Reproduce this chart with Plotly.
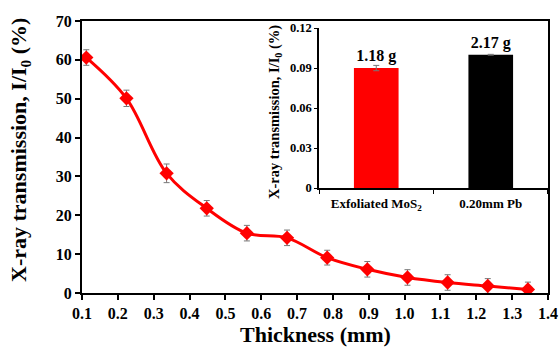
import plotly.graph_objects as go

# Transmission vs. sheet thickness
thickness_mm = [0.112, 0.224, 0.336, 0.448, 0.560, 0.672, 0.784, 0.896, 1.008, 1.120, 1.232, 1.344]
transmission = [60.6, 50.1, 30.8, 21.8, 15.4, 14.2, 9.1, 6.1, 4.0, 2.7, 1.8, 0.9]
transmission_err = [2.0, 2.1, 2.4, 2.0, 2.0, 2.0, 1.9, 2.0, 2.0, 2.0, 1.9, 1.9]

# Inset: comparison with lead
inset_labels = ["Exfoliated MoS<sub>2</sub>", "0.20mm Pb"]
inset_values = [0.090, 0.100]
inset_err = [0.002, 0.0003]
inset_colors = ["#ff0000", "#000000"]
inset_mass = ["1.18 g", "2.17 g"]

FONT = "Liberation Serif"

fig = go.Figure()

fig.add_trace(go.Scatter(
    x=thickness_mm, y=transmission,
    mode="lines+markers",
    line=dict(color="#ff0000", width=3, shape="spline", smoothing=1.0),
    marker=dict(symbol="diamond", size=11, color="#ff0000"),
    error_y=dict(type="data", array=transmission_err, color="#777777", thickness=1, width=3),
    showlegend=False,
))

fig.add_trace(go.Bar(
    x=inset_labels, y=inset_values,
    marker=dict(color=inset_colors, line=dict(width=0)),
    width=0.39,
    error_y=dict(type="data", array=inset_err, color="#777777", thickness=1, width=3),
    text=["<b>%s</b>" % m for m in inset_mass],
    textposition="outside",
    textfont=dict(family=FONT, size=16, color="black"),
    cliponaxis=False,
    xaxis="x2", yaxis="y2",
    showlegend=False,
))

fig.update_layout(
    width=560, height=347,
    margin=dict(l=82, r=12, t=21, b=54),
    paper_bgcolor="white", plot_bgcolor="white",
    font=dict(family=FONT, color="black"),
    xaxis=dict(
        range=[0.1, 1.4], dtick=0.1, tick0=0.1, tickformat=".1f",
        showline=True, linecolor="black", linewidth=2, mirror=True,
        ticks="outside", ticklen=5, tickwidth=1.5, tickcolor="black",
        automargin=False,
        showgrid=False, zeroline=False,
        tickfont=dict(family=FONT, size=16, weight="bold"),
    ),
    yaxis=dict(
        range=[0, 70], dtick=10,
        showline=True, linecolor="black", linewidth=2, mirror=True,
        ticks="outside", ticklen=5, tickwidth=1.5, tickcolor="black",
        automargin=False,
        showgrid=False, zeroline=False,
        tickfont=dict(family=FONT, size=16, weight="bold"),
    ),
    xaxis2=dict(
        domain=[0.5086, 1.0], anchor="y2",
        range=[-0.5, 1.5],
        showline=True, linecolor="black", linewidth=1.5,
        ticks="outside", tickson="boundaries", ticklen=4, tickcolor="black",
        ticklabelstandoff=3, automargin=False,
        showgrid=False, zeroline=False,
        tickfont=dict(family=FONT, size=13, weight="bold"),
    ),
    yaxis2=dict(
        domain=[0.386, 0.974], anchor="x2",
        range=[0, 0.12],
        tickvals=[0, 0.03, 0.06, 0.09, 0.12],
        ticktext=["0", "0.03", "0.06", "0.09", "0.12"],
        showline=True, linecolor="black", linewidth=1.5,
        ticks="outside", ticklen=3, tickcolor="black",
        automargin=False,
        showgrid=False, zeroline=False,
        tickfont=dict(family=FONT, size=12.5, weight="bold"),
    ),
    annotations=[
        # main axis titles
        dict(text="Thickness (mm)", xref="paper", yref="paper",
             x=0.5, y=-0.151, showarrow=False,
             xanchor="center", yanchor="middle",
             font=dict(family=FONT, size=22, weight="bold")),
        dict(text="X-ray transmission, I/I<sub>0</sub> (%)", xref="paper", yref="paper",
             x=-0.133, y=0.526, textangle=-90, showarrow=False,
             xanchor="center", yanchor="middle",
             font=dict(family=FONT, size=22, weight="bold")),
        # inset axis title
        dict(text="X-ray transmission, I/I<sub>0</sub> (%)", xref="paper", yref="paper",
             x=0.414, y=0.665, textangle=-90, showarrow=False,
             xanchor="center", yanchor="middle",
             font=dict(family=FONT, size=14.5, weight="bold")),
    ],
)

fig.write_html("out.html")
